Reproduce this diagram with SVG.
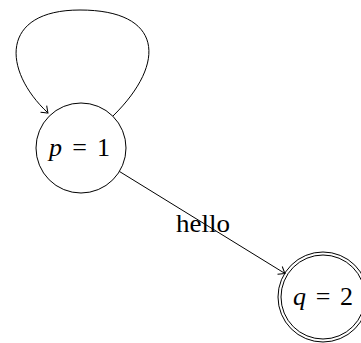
<svg xmlns="http://www.w3.org/2000/svg" width="361" height="343" viewBox="0 0 361 343">
<style>
.node{fill:none;stroke:#000;stroke-width:1}
.edge{fill:none;stroke:#000;stroke-width:1}
.lbl{font-family:"Liberation Serif","DejaVu Serif",serif;font-size:26px;fill:#000}
.it{font-style:italic}
</style>
<defs>
<marker id="arr" markerWidth="12" markerHeight="12" refX="0" refY="0" viewBox="-8 -6 10 12" orient="auto" markerUnits="userSpaceOnUse">
<path d="M-6,-4.5 Q-1.5,-1 0,0 Q-1.5,1 -6,4.5" fill="none" stroke="#000" stroke-width="1"/>
</marker>
</defs>
<rect width="361" height="343" fill="#fff"/>
<g id="connectors">
<path class="edge" d="M113,116 C168,62 162,10 80,10 C0,10 2,70 48,113" marker-end="url(#arr)"/>
<line class="edge" x1="119.5" y1="171.5" x2="285" y2="273.5" marker-end="url(#arr)"/>
<text class="lbl" x="176" y="232" textLength="54" lengthAdjust="spacingAndGlyphs">hello</text>
</g>
<g id="p">
<circle class="node" cx="81" cy="148" r="45"/>
<text class="lbl" x="49" y="156" textLength="61"><tspan class="it">p</tspan> = 1</text>
</g>
<g id="q">
<circle class="node" cx="323" cy="297" r="45"/>
<circle class="node" cx="323" cy="297" r="42"/>
<text class="lbl" x="293" y="305" textLength="60"><tspan class="it">q</tspan> = 2</text>
</g>
</svg>
